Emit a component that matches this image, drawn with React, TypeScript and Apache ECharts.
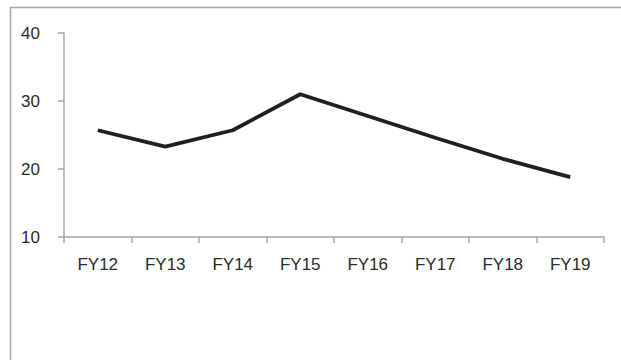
import React, { useEffect, useRef } from "react";
import * as echarts from "echarts";

const categories = ["FY12", "FY13", "FY14", "FY15", "FY16", "FY17", "FY18", "FY19"];
const values = [25.7, 23.3, 25.7, 31.0, 27.8, 24.6, 21.5, 18.8];
const yTicks = { min: 10, max: 40, interval: 10 };

const FONT = "'Liberation Sans Narrow', 'Arial Narrow', 'Liberation Sans', Arial, sans-serif";

export default function App() {
  const ref = useRef<HTMLDivElement>(null);
  useEffect(() => {
    if (!ref.current) return;
    const chart = echarts.init(ref.current, undefined, { renderer: "svg" });
    chart.setOption({
      animation: false,
      backgroundColor: "#ffffff",
      grid: { left: 64, right: 17, top: 33, bottom: 123, containLabel: false },
      graphic: [
        {
          type: "rect",
          shape: { x: 10.5, y: 7.5, width: 700, height: 400 },
          style: { fill: "none", stroke: "#a6a6a6", lineWidth: 1.5 },
          silent: true,
        },
      ],
      xAxis: {
        type: "category",
        data: categories,
        boundaryGap: true,
        axisLine: { lineStyle: { color: "#a6a6a6", width: 1.5 } },
        axisTick: { show: true, length: 6, lineStyle: { color: "#a6a6a6", width: 1.5 } },
        axisLabel: { color: "#2b2b2b", fontSize: 17, fontFamily: FONT, margin: 19 },
        splitLine: { show: false },
      },
      yAxis: {
        type: "value",
        min: yTicks.min,
        max: yTicks.max,
        interval: yTicks.interval,
        axisLine: { show: true, lineStyle: { color: "#a6a6a6", width: 1.5 } },
        axisTick: { show: true, length: 6, lineStyle: { color: "#a6a6a6", width: 1.5 } },
        axisLabel: { color: "#2b2b2b", fontSize: 17, fontFamily: FONT, margin: 24 },
        splitLine: { show: false },
      },
      series: [
        {
          type: "line",
          data: values,
          symbol: "none",
          lineStyle: { color: "#231f20", width: 3.8 },
        },
      ],
    });
    return () => chart.dispose();
  }, []);
  return <div ref={ref} style={{ width: 621, height: 360, position: "absolute", left: 0, top: 0 }} />;
}
